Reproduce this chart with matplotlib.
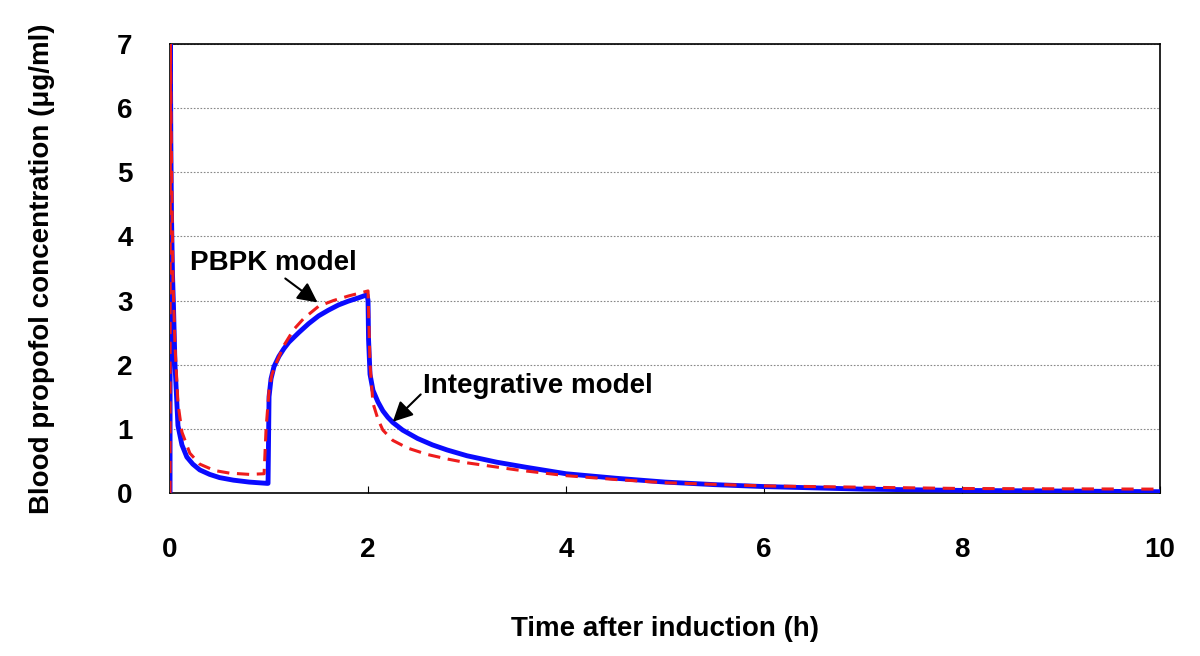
import matplotlib
matplotlib.use('Agg')
import matplotlib.pyplot as plt

plt.rcParams['font.family'] = ['Liberation Sans', 'DejaVu Sans']
plt.rcParams['font.weight'] = 'bold'

# Integrative model (solid blue)
t_int = [0.0, 0.003, 0.008, 0.015, 0.025, 0.035, 0.05, 0.08, 0.12, 0.17, 0.23, 0.3, 0.4,
         0.5, 0.64, 0.8, 0.98, 0.99, 1.0, 1.02, 1.05, 1.1, 1.15, 1.2, 1.3, 1.4, 1.5,
         1.6, 1.7, 1.8, 1.9, 1.99, 2.0, 2.005, 2.02, 2.05, 2.1, 2.15, 2.2, 2.25, 2.35,
         2.5, 2.65, 2.8, 3.0, 3.3, 3.6, 4.0, 4.5, 5.0, 5.5, 6.0, 6.5, 7.0, 8.0, 9.0, 10.0]
c_int = [0.0, 7.0, 5.5, 4.3, 3.4, 2.9, 2.0, 1.05, 0.75, 0.56, 0.45, 0.36, 0.29,
         0.24, 0.2, 0.17, 0.15, 0.15, 1.5, 1.78, 1.97, 2.13, 2.25, 2.35, 2.5, 2.64, 2.76,
         2.85, 2.93, 2.99, 3.04, 3.09, 3.0, 2.4, 1.85, 1.6, 1.42, 1.28, 1.18, 1.1, 0.98,
         0.85, 0.75, 0.67, 0.58, 0.48, 0.4, 0.3, 0.23, 0.17, 0.13, 0.1, 0.08, 0.06, 0.04,
         0.03, 0.02]

# PBPK model (dashed red)
t_pbpk = [0.0, 0.004, 0.01, 0.02, 0.03, 0.05, 0.08, 0.12, 0.2, 0.3, 0.45, 0.6, 0.8, 0.95,
          0.97, 1.0, 1.03, 1.08, 1.15, 1.25, 1.35, 1.5, 1.65, 1.8, 1.9, 2.0, 2.02, 2.05,
          2.1, 2.15, 2.25, 2.4, 2.6, 2.8, 3.0, 3.5, 4.0, 4.5, 5.0, 6.0, 7.0, 8.0, 9.0, 10.0]
c_pbpk = [0.0, 7.0, 5.8, 4.5, 3.3, 2.3, 1.4, 0.95, 0.62, 0.45, 0.35, 0.31, 0.29, 0.3,
          1.0, 1.6, 1.85, 2.05, 2.3, 2.55, 2.72, 2.91, 3.0, 3.07, 3.11, 3.15, 2.0, 1.4,
          1.15, 0.98, 0.82, 0.7, 0.6, 0.53, 0.47, 0.36, 0.27, 0.21, 0.16, 0.11, 0.09,
          0.07, 0.065, 0.06]

fig = plt.figure(figsize=(12, 6.56), dpi=100)
ax = fig.add_axes([0.1417, 0.2485, 0.825, 0.6845])

ax.plot(t_int, c_int, color='#0a0aff', lw=3.5, zorder=3, solid_joinstyle='round')
ax.plot(t_pbpk, c_pbpk, color='#ee1c1c', lw=2.2, ls=(0, (4, 2.5)), zorder=4)

ax.set_xlim(0, 10)
ax.set_ylim(0, 7)
ax.set_xticks([0, 2, 4, 6, 8, 10])
ax.set_yticks(range(8))
ax.tick_params(axis='x', direction='in', length=5, pad=32, labelsize=20)
ax.tick_params(axis='y', direction='in', length=0, pad=27, labelsize=20)
for lab in ax.get_xticklabels() + ax.get_yticklabels():
    lab.set_fontweight('bold')

ax.grid(axis='y', ls=(0, (1.5, 1.5)), color='#888888', lw=0.8)
for s in ax.spines.values():
    s.set_color('black')
    s.set_linewidth(1.2)

ax.set_xlabel('Time after induction (h)', fontsize=20, fontweight='bold', labelpad=38)
ax.set_ylabel('Blood propofol concentration (\u03bcg/ml)', fontsize=20,
              fontweight='bold', labelpad=45)

arrow = dict(arrowstyle='-|>', mutation_scale=30, lw=1.5, color='black',
             shrinkA=0, shrinkB=0)
ax.annotate('PBPK model', xy=(1.49, 2.97), xytext=(0.2, 3.59),
            fontsize=20, fontweight='bold', va='center', ha='left',
            arrowprops=dict(arrow, relpos=(0.55, 0.0)))
ax.annotate('Integrative model', xy=(2.25, 1.11), xytext=(2.56, 1.66),
            fontsize=20, fontweight='bold', va='center', ha='left',
            arrowprops=dict(arrow, relpos=(0.0, 0.3)))

fig.savefig('out.png', dpi=100, facecolor='white')
